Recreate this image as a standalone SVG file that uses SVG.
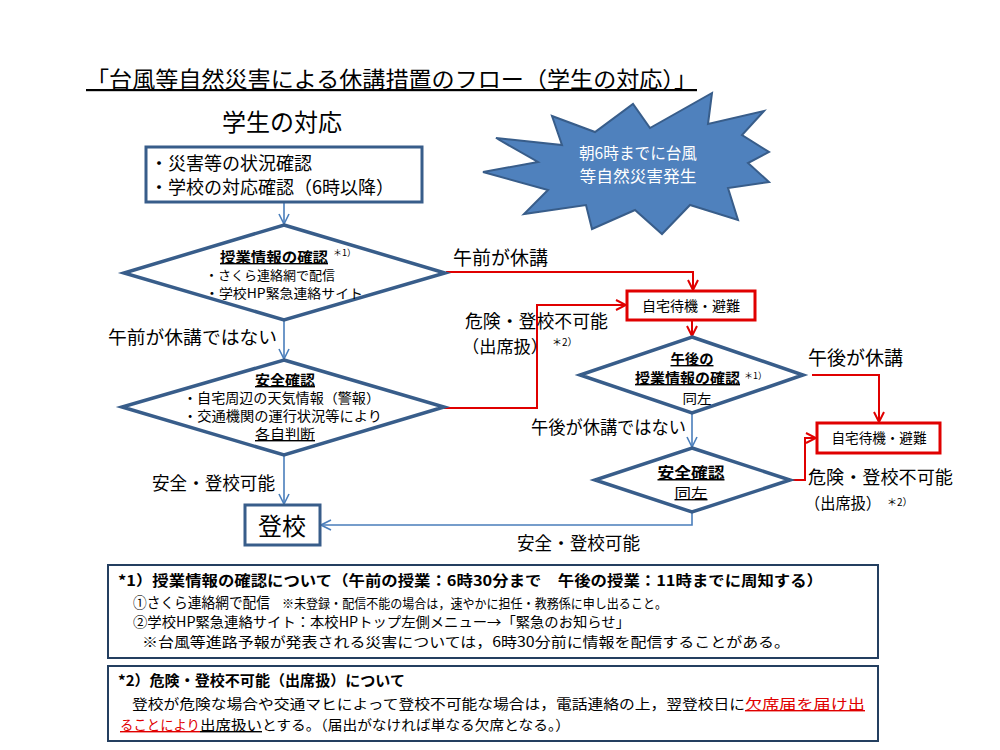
<svg xmlns="http://www.w3.org/2000/svg" width="1000" height="750" viewBox="0 0 1000 750">
<defs>
<style>
text{font-family:"Noto Sans CJK JP","Noto Sans",sans-serif;fill:#000}
.bx{fill:#fff;stroke:#385D8A;stroke-width:3}
.rb{fill:#fff;stroke:#E00000;stroke-width:3}
.dm{fill:#fff;stroke:#385D8A;stroke-width:3.5;stroke-linejoin:miter}
.cb{fill:none;stroke:#4A7EBB;stroke-width:1.6}
.cr{fill:none;stroke:#E00000;stroke-width:2}
.fn{fill:#fff;stroke:#243F60;stroke-width:2}
.b{font-weight:bold}
.u{text-decoration:underline}
.red{fill:#E00000}
</style>
<marker id="ab" viewBox="0 0 12 12" refX="11" refY="6" markerWidth="12" markerHeight="12" markerUnits="userSpaceOnUse" orient="auto"><path d="M1,1 L11,6 L1,11" fill="none" stroke="#4A7EBB" stroke-width="1.6"/></marker>
<marker id="ar" viewBox="0 0 12 12" refX="11" refY="6" markerWidth="12" markerHeight="12" markerUnits="userSpaceOnUse" orient="auto"><path d="M1,1 L11,6 L1,11" fill="none" stroke="#E00000" stroke-width="2"/></marker>
</defs>
<rect width="1000" height="750" fill="#fff"/>

<text x="86" y="87" font-size="22" class="u" textLength="611" lengthAdjust="spacingAndGlyphs">「台風等自然災害による休講措置のフロー（学生の対応）」</text>
<text x="282" y="131" font-size="24" text-anchor="middle">学生の対応</text>

<g id="burst">
<polygon points="552,116 595,132 633,104 650,128 712,93 708,124 764,111 742,135 769,152 748,163 769,182 728,188 738,220 690,205 662,234 635,210 592,229 586,205 524,214 548,190 483,172 538,162 496,138 562,145" fill="#4F81BD" stroke="#385D8A" stroke-width="2" stroke-linejoin="miter"/>
<text x="638" y="159" font-size="16" text-anchor="middle" style="fill:#fff" textLength="118" lengthAdjust="spacingAndGlyphs">朝6時までに台風</text>
<text x="638" y="182" font-size="16" text-anchor="middle" style="fill:#fff" textLength="117" lengthAdjust="spacingAndGlyphs">等自然災害発生</text>
</g>

<g id="connectors">
<line class="cb" x1="284" y1="202" x2="284" y2="224" marker-end="url(#ab)"/>
<line class="cb" x1="284" y1="320" x2="284" y2="359" marker-end="url(#ab)"/>
<line class="cb" x1="284" y1="456" x2="284" y2="504" marker-end="url(#ab)"/>
<polyline class="cb" points="692,513 692,525 321,525" marker-end="url(#ab)"/>
<line class="cb" x1="692" y1="414" x2="692" y2="447" marker-end="url(#ab)"/>
<polyline class="cr" points="446,272 693,272 693,290" marker-end="url(#ar)"/>
<polyline class="cr" points="444,408 537,408 537,305 626,305" marker-end="url(#ar)"/>
<line class="cr" x1="692" y1="321" x2="692" y2="336" marker-end="url(#ar)"/>
<polyline class="cr" points="812,375 879,375 879,422" marker-end="url(#ar)"/>
<polyline class="cr" points="791,480 805,480 805,438 816,438" marker-end="url(#ar)"/>
<text x="453" y="265" font-size="19" textLength="95" lengthAdjust="spacingAndGlyphs">午前が休講</text>
<text x="108" y="344" font-size="18" textLength="169" lengthAdjust="spacingAndGlyphs">午前が休講ではない</text>
<text x="152" y="490" font-size="18" textLength="123" lengthAdjust="spacingAndGlyphs">安全・登校可能</text>
<text x="465" y="328" font-size="18" textLength="143" lengthAdjust="spacingAndGlyphs">危険・登校不可能</text>
<text x="462" y="353" font-size="17" textLength="86" lengthAdjust="spacingAndGlyphs">（出席扱）</text>
<text x="552" y="346" font-size="10">＊2）</text>
<text x="808" y="484" font-size="18" textLength="145" lengthAdjust="spacingAndGlyphs">危険・登校不可能</text>
<text x="805" y="509" font-size="16" textLength="76" lengthAdjust="spacingAndGlyphs">（出席扱）</text>
<text x="887" y="506" font-size="10">＊2）</text>
<text x="808" y="365" font-size="19" textLength="95" lengthAdjust="spacingAndGlyphs">午後が休講</text>
<text x="686" y="434" font-size="18" text-anchor="end" textLength="155" lengthAdjust="spacingAndGlyphs">午後が休講ではない</text>
<text x="517" y="550" font-size="18" textLength="123" lengthAdjust="spacingAndGlyphs">安全・登校可能</text>
</g>

<g id="check">
<rect class="bx" x="146" y="147" width="276" height="55"/>
<text x="150" y="170" font-size="18">・災害等の状況確認</text>
<text x="150" y="194" font-size="18">・学校の対応確認（6時以降）</text>
</g>

<g id="d1">
<polygon class="dm" points="284,225 445,273 284,320 124,273"/>
<text x="220" y="262" font-size="14" class="b u" textLength="108" lengthAdjust="spacingAndGlyphs">授業情報の確認</text>
<text x="333" y="256" font-size="9">＊1）</text>
<text x="205" y="280" font-size="13" textLength="130" lengthAdjust="spacingAndGlyphs">・さくら連絡網で配信</text>
<text x="205" y="298" font-size="13" textLength="158" lengthAdjust="spacingAndGlyphs">・学校HP緊急連絡サイト</text>
</g>

<g id="d2">
<polygon class="dm" points="284,360 444,407 284,455 122,407"/>
<text x="285" y="385" font-size="14" class="b u" text-anchor="middle" textLength="60" lengthAdjust="spacingAndGlyphs">安全確認</text>
<text x="183" y="403" font-size="13.5" textLength="197" lengthAdjust="spacingAndGlyphs">・自宅周辺の天気情報（警報）</text>
<text x="183" y="421" font-size="13.5" textLength="199" lengthAdjust="spacingAndGlyphs">・交通機関の運行状況等により</text>
<text x="285" y="439" font-size="14" class="u" text-anchor="middle" textLength="60" lengthAdjust="spacingAndGlyphs">各自判断</text>
</g>

<g id="go">
<rect class="bx" x="245" y="505" width="75" height="40"/>
<text x="282" y="535" font-size="24" text-anchor="middle">登校</text>
</g>

<g id="home1">
<rect class="rb" x="627" y="291" width="128" height="29"/>
<text x="691" y="311" font-size="14" text-anchor="middle" textLength="98" lengthAdjust="spacingAndGlyphs">自宅待機・避難</text>
</g>

<g id="d3">
<polygon class="dm" points="692,337 803,375 692,413 580,375"/>
<text x="692" y="364" font-size="14" class="b u" text-anchor="middle" textLength="43" lengthAdjust="spacingAndGlyphs">午後の</text>
<text x="635" y="383" font-size="14" class="b u" textLength="105" lengthAdjust="spacingAndGlyphs">授業情報の確認</text>
<text x="744" y="379" font-size="9">＊1）</text>
<text x="697" y="403" font-size="13" text-anchor="middle" textLength="29" lengthAdjust="spacingAndGlyphs">同左</text>
</g>

<g id="home2">
<rect class="rb" x="817" y="423" width="123" height="30"/>
<text x="879" y="443" font-size="14" text-anchor="middle" textLength="95" lengthAdjust="spacingAndGlyphs">自宅待機・避難</text>
</g>

<g id="d4">
<polygon class="dm" points="692,448 790,480 692,512 595,480"/>
<text x="691" y="478" font-size="15" class="b u" text-anchor="middle" textLength="67" lengthAdjust="spacingAndGlyphs">安全確認</text>
<text x="691" y="498" font-size="14" class="u" text-anchor="middle" textLength="33" lengthAdjust="spacingAndGlyphs">同左</text>
</g>

<g id="note1">
<rect class="fn" x="108" y="565" width="770" height="93"/>
<text x="118" y="586" font-size="14.5" class="b" textLength="705" lengthAdjust="spacingAndGlyphs">*1）授業情報の確認について（午前の授業：6時30分まで　午後の授業：11時までに周知する）</text>
<text x="133" y="608" font-size="14.5" textLength="137" lengthAdjust="spacingAndGlyphs">①さくら連絡網で配信</text>
<text x="282" y="608" font-size="13" textLength="385" lengthAdjust="spacingAndGlyphs">※未登録・配信不能の場合は，速やかに担任・教務係に申し出ること。</text>
<text x="133" y="627" font-size="14" textLength="497" lengthAdjust="spacingAndGlyphs">②学校HP緊急連絡サイト：本校HPトップ左側メニュー→「緊急のお知らせ」</text>
<text x="142" y="647" font-size="14" textLength="648" lengthAdjust="spacingAndGlyphs">※台風等進路予報が発表される災害については，6時30分前に情報を配信することがある。</text>
</g>

<g id="note2">
<rect class="fn" x="108" y="666" width="770" height="75"/>
<text x="118" y="686" font-size="14.5" class="b" textLength="287" lengthAdjust="spacingAndGlyphs">*2）危険・登校不可能（出席扱）について</text>
<text x="132" y="709" font-size="14" textLength="613" lengthAdjust="spacingAndGlyphs">登校が危険な場合や交通マヒによって登校不可能な場合は，電話連絡の上，翌登校日に</text>
<text x="745" y="709" font-size="14" class="u red" textLength="120" lengthAdjust="spacingAndGlyphs">欠席届を届け出</text>
<text x="120" y="730" font-size="14" class="u red" textLength="80" lengthAdjust="spacingAndGlyphs">ることにより</text>
<text x="200" y="730" font-size="14" class="u" textLength="62" lengthAdjust="spacingAndGlyphs">出席扱い</text>
<text x="262" y="730" font-size="14" textLength="308" lengthAdjust="spacingAndGlyphs">とする。（届出がなければ単なる欠席となる。）</text>
</g>
</svg>
